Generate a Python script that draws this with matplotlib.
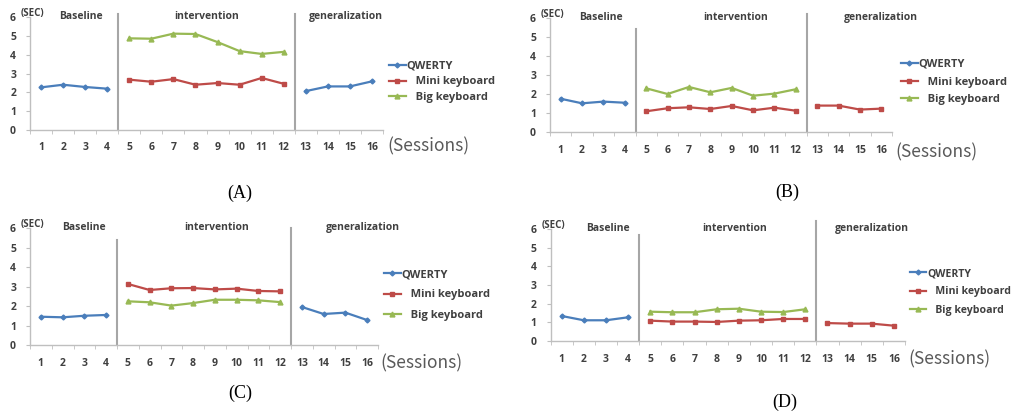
import matplotlib
matplotlib.use("Agg")
import matplotlib.pyplot as plt
import numpy as np

W, H = 1015, 415

sessions = np.arange(1, 17)
base_x = [1, 2, 3, 4]
inter_x = [5, 6, 7, 8, 9, 10, 11, 12]
gen_x = [13, 14, 15, 16]

# (A)
a_qwerty_base = [2.27, 2.41, 2.29, 2.20]
a_mini = [2.68, 2.57, 2.71, 2.41, 2.50, 2.41, 2.77, 2.46]
a_big = [4.88, 4.86, 5.13, 5.11, 4.68, 4.20, 4.05, 4.16]
a_gen = [2.07, 2.32, 2.32, 2.59]

# (B)
b_qwerty_base = [1.75, 1.51, 1.60, 1.54]
b_mini = [1.09, 1.25, 1.30, 1.21, 1.37, 1.14, 1.28, 1.12]
b_big = [2.30, 2.00, 2.37, 2.09, 2.32, 1.91, 2.02, 2.25]
b_gen = [1.39, 1.39, 1.18, 1.23]

# (C)
c_qwerty_base = [1.45, 1.42, 1.50, 1.54]
c_mini = [3.13, 2.82, 2.91, 2.92, 2.85, 2.89, 2.77, 2.75]
c_big = [2.24, 2.19, 2.02, 2.15, 2.32, 2.32, 2.29, 2.20]
c_gen = [1.95, 1.59, 1.66, 1.28]

# (D)
d_qwerty_base = [1.34, 1.11, 1.11, 1.27]
d_mini = [1.09, 1.04, 1.04, 1.02, 1.09, 1.11, 1.18, 1.18]
d_big = [1.57, 1.54, 1.54, 1.70, 1.73, 1.57, 1.55, 1.70]
d_gen = [0.96, 0.93, 0.93, 0.82]

series_names = ["QWERTY", "Mini keyboard", "Big keyboard"]
phase_names = ["Baseline", "intervention", "generalization"]
panel_names = ["(A)", "(B)", "(C)", "(D)"]
gen_series = ["QWERTY", "Mini keyboard", "QWERTY", "Mini keyboard"]

colors = {"QWERTY": "#4a7ebb", "Mini keyboard": "#be4b48", "Big keyboard": "#98b954"}
markers = {"QWERTY": "D", "Mini keyboard": "s", "Big keyboard": "^"}
msizes = {"QWERTY": 2.5, "Mini keyboard": 3.5, "Big keyboard": 3.5}

# layout in pixels: x0, x1, y(0), y(6)
layouts = [
    dict(box=(30, 383, 130, 17.3), sep_top=(6.2, 6.2), titles=(2.8, 8.5, 14.8),
         legend=(389, 61), lspace=0.4, lsize=8, sess=(387, 146), label=(240, 193)),
    dict(box=(550, 892, 132, 18), sep_top=(5.4, 6.2), titles=(2.9, 9.2, 16.0),
         legend=(901, 59), lspace=0.6, lsize=8, sess=(895, 152), label=(787, 192)),
    dict(box=(30, 378, 345, 228), sep_top=(5.4, 6.0), titles=(3.0, 9.1, 15.8),
         legend=(384, 269), lspace=0.85, lsize=8, sess=(380, 363), label=(240, 393)),
    dict(box=(550.6, 905, 341, 229), sep_top=(5.7, 6.45), titles=(3.1, 8.8, 15.0),
         legend=(910, 268), lspace=0.7, lsize=7.6, sess=(908, 359), label=(785, 402)),
]

data = [
    (a_qwerty_base, a_mini, a_big, a_gen),
    (b_qwerty_base, b_mini, b_big, b_gen),
    (c_qwerty_base, c_mini, c_big, c_gen),
    (d_qwerty_base, d_mini, d_big, d_gen),
]

plt.rcParams["font.family"] = ["Open Sans", "DejaVu Sans"]
fig = plt.figure(figsize=(W / 100, H / 100), dpi=100)
txt_color = "#404040"
axis_color = "#bfbfbf"

for i, (lay, (q_base, mini, big, gen)) in enumerate(zip(layouts, data)):
    x0, x1, y0, y6 = lay["box"]
    ax = fig.add_axes([x0 / W, 1 - y0 / H, (x1 - x0) / W, (y0 - y6) / H])
    ax.set_xlim(0.5, 16.5)
    ax.set_ylim(0, 6)
    for s in ["top", "right"]:
        ax.spines[s].set_visible(False)
    for s in ["left", "bottom"]:
        ax.spines[s].set_color(axis_color)
        ax.spines[s].set_linewidth(1.0)

    ax.set_xticks(sessions)
    ax.set_xticklabels([str(s) for s in sessions])
    ax.set_xticks(np.arange(0.5, 17, 1), minor=True)
    ax.tick_params(axis="x", which="major", length=0, pad=9, labelsize=7.5,
                   labelcolor=txt_color)
    ax.tick_params(axis="x", which="minor", length=3, color=axis_color)
    ax.set_yticks(range(7))
    ax.tick_params(axis="y", length=3, color=axis_color, pad=7, labelsize=7.5,
                   labelcolor=txt_color)
    for lbl in ax.get_xticklabels() + ax.get_yticklabels():
        lbl.set_fontweight("bold")

    # phase separators
    for xs, top in zip([4.5, 12.5], lay["sep_top"]):
        ax.plot([xs, xs], [0, top], color="#a6a6a6", lw=1.5, clip_on=False)

    for xt, name in zip(lay["titles"], phase_names):
        ax.text(xt, 6.05, name, ha="center", va="center", fontsize=7.5,
                fontweight="bold", color=txt_color)

    handles = {}
    for name, xs, ys in [("QWERTY", base_x, q_base), ("Mini keyboard", inter_x, mini),
                         ("Big keyboard", inter_x, big), (gen_series[i], gen_x, gen)]:
        h, = ax.plot(xs, ys, color=colors[name], marker=markers[name],
                     ms=msizes[name], lw=1.6)
        handles.setdefault(name, h)

    lx, ly = lay["legend"]
    labels = ["QWERTY", "   Mini keyboard", "   Big keyboard"]
    leg = fig.legend([handles[n] for n in series_names],
                     labels, loc="upper left", bbox_to_anchor=(lx / W, 1 - ly / H),
                     frameon=False, fontsize=lay["lsize"], handlelength=1.5,
                     handletextpad=0.1, labelspacing=lay["lspace"], borderpad=0,
                     borderaxespad=0)
    for t in leg.get_texts():
        t.set_color(txt_color)
        t.set_fontweight("bold")

    fig.text((x0 - 9) / W, 1 - (y6 - 4) / H, "(SEC)", fontsize=7, color=txt_color,
             ha="left", va="center", fontweight="bold")

    sx, sy = lay["sess"]
    fig.text(sx / W, 1 - sy / H, "(Sessions)", fontsize=12.5, color="#595959",
             ha="left", va="center", family=["Noto Sans CJK KR", "DejaVu Sans"])

    px, py = lay["label"]
    fig.text(px / W, 1 - py / H, panel_names[i], fontsize=13, color="black",
             ha="center", va="center", family="Liberation Serif")

fig.savefig("out.png", dpi=100)
